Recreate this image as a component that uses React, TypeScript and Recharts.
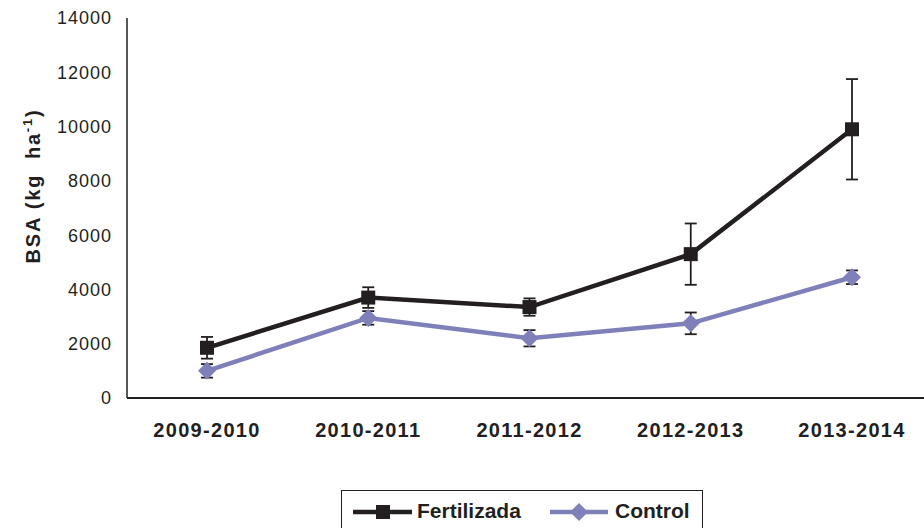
import React from "react";
import { LineChart, Line, XAxis, YAxis, ErrorBar } from "recharts";

const periods = ["2009-2010", "2010-2011", "2011-2012", "2012-2013", "2013-2014"];
const fertilizada = [1850, 3700, 3350, 5300, 9900];
const fertilizadaErr = [400, 380, 320, 1130, 1850];
const control = [1000, 2950, 2200, 2750, 4450];
const controlErr = [250, 250, 300, 400, 250];
const yTicks = [0, 2000, 4000, 6000, 8000, 10000, 12000, 14000];

const INK = "#231f20";
const LAVENDER = "#7f80b9";
const FONT = '"Liberation Sans", Arial, sans-serif';

const data = periods.map((period, i) => ({
  period,
  fert: fertilizada[i],
  fertErr: fertilizadaErr[i],
  ctrl: control[i],
  ctrlErr: controlErr[i],
}));

const SquareDot = (props: any) => {
  const { cx, cy } = props;
  if (cx == null || cy == null) return null;
  return <rect x={cx - 7} y={cy - 7} width={14} height={14} fill={INK} />;
};

const DiamondDot = (props: any) => {
  const { cx, cy } = props;
  if (cx == null || cy == null) return null;
  const r = 9;
  return (
    <polygon
      points={`${cx},${cy - r} ${cx + r},${cy} ${cx},${cy + r} ${cx - r},${cy}`}
      fill={LAVENDER}
    />
  );
};

const YLabel = () => (
  <text
    x={40}
    y={186}
    transform="rotate(-90 40 186)"
    textAnchor="middle"
    fontFamily={FONT}
    fontWeight={700}
    fontSize={20}
    letterSpacing={1.8}
    fill={INK}
    style={{ whiteSpace: "pre" }}
  >
    BSA (kg  ha
    <tspan dy={-8} fontSize={13}>-1</tspan>
    <tspan dy={8}>)</tspan>
  </text>
);

export default function App() {
  return (
    <div
      style={{
        position: "absolute",
        left: 0,
        top: 0,
        width: 924,
        height: 528,
        overflow: "hidden",
        background: "#fff",
      }}
    >
      <LineChart
        width={940}
        height={528}
        data={data}
        margin={{ top: 18, right: 8, left: 0, bottom: 100 }}
      >
        <XAxis
          dataKey="period"
          interval={0}
          height={30}
          padding={{ left: 80, right: 80 }}
          tickLine={false}
          tickSize={6}
          tickMargin={19}
          axisLine={{ stroke: INK, strokeWidth: 2 }}
          tick={{ fontSize: 20, fontWeight: 700, fill: INK, fontFamily: FONT, letterSpacing: 1.3 }}
        />
        <YAxis
          domain={[0, 14000]}
          ticks={yTicks}
          width={127}
          tickLine={false}
          tickSize={6}
          tickMargin={9}
          axisLine={{ stroke: INK, strokeWidth: 1.5 }}
          tick={{ fontSize: 18, fill: INK, fontFamily: FONT, letterSpacing: 1 }}
          label={{ content: () => <YLabel /> }}
        />
        <Line
          type="linear"
          dataKey="ctrl"
          name="Control"
          stroke={LAVENDER}
          strokeWidth={4.5}
          dot={<DiamondDot />}
          activeDot={false}
          isAnimationActive={false}
        >
          <ErrorBar dataKey="ctrlErr" direction="y" width={6} stroke={INK} strokeWidth={1.8} />
        </Line>
        <Line
          type="linear"
          dataKey="fert"
          name="Fertilizada"
          stroke={INK}
          strokeWidth={4.5}
          dot={<SquareDot />}
          activeDot={false}
          isAnimationActive={false}
        >
          <ErrorBar dataKey="fertErr" direction="y" width={6} stroke={INK} strokeWidth={1.8} />
        </Line>
      </LineChart>

      <div
        style={{
          position: "absolute",
          left: 341,
          top: 490,
          width: 362,
          height: 50,
          boxSizing: "border-box",
          border: `1.5px solid ${INK}`,
          background: "#fff",
          fontFamily: FONT,
          fontWeight: 700,
          fontSize: 21,
          color: INK,
        }}
      >
        <svg width={362} height={48} style={{ position: "absolute", left: 0, top: 0 }}>
          <line x1={11} y1={21} x2={70} y2={21} stroke={INK} strokeWidth={4.5} />
          <rect x={34} y={14} width={14} height={14} fill={INK} />
          <line x1={208} y1={21} x2={266} y2={21} stroke={LAVENDER} strokeWidth={4.5} />
          <polygon points="237,12 246,21 237,30 228,21" fill={LAVENDER} />
        </svg>
        <span style={{ position: "absolute", left: 75, top: 8, lineHeight: "24px" }}>Fertilizada</span>
        <span style={{ position: "absolute", left: 273, top: 8, lineHeight: "24px" }}>Control</span>
      </div>
    </div>
  );
}
